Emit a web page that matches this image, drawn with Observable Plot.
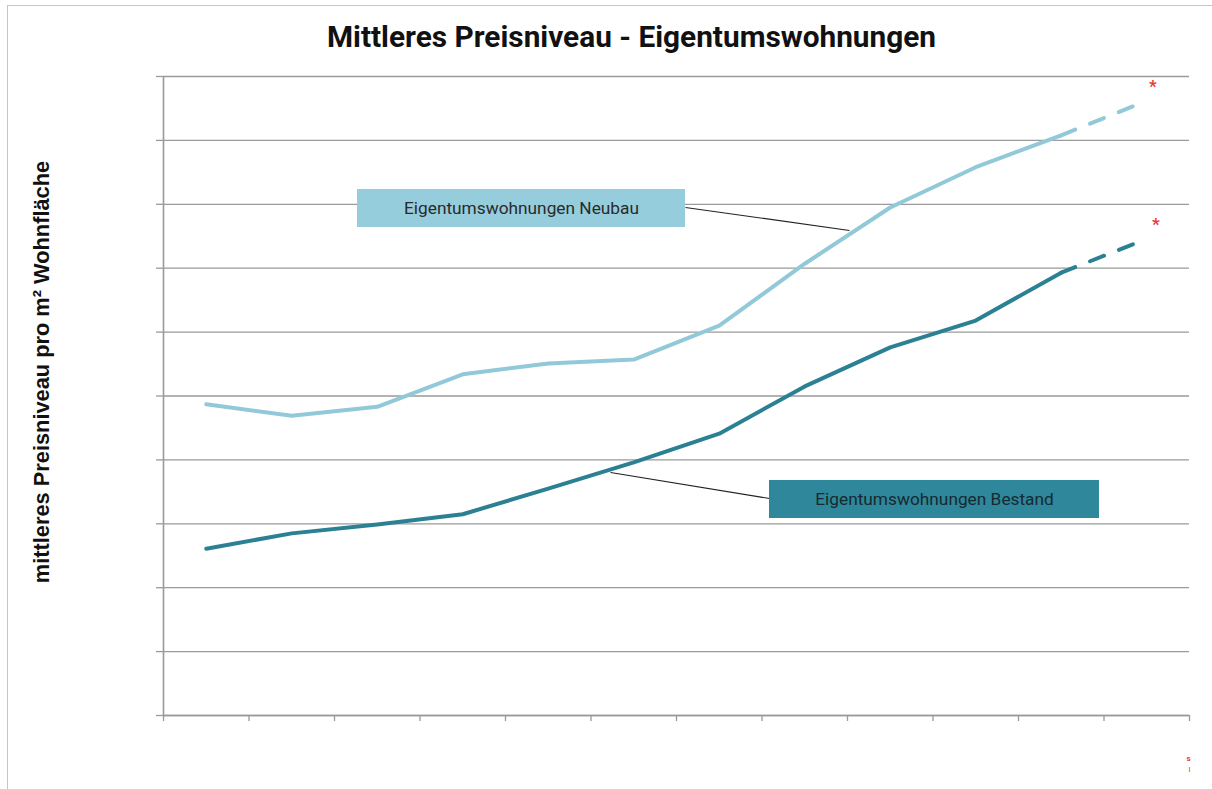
<!DOCTYPE html>
<html><head><meta charset="utf-8">
<script src="https://cdn.jsdelivr.net/npm/d3@7"></script>
<script src="https://cdn.jsdelivr.net/npm/@observablehq/plot@0.6"></script>
<style>
body{margin:0;background:#fff;}
#frame{position:absolute;left:7px;top:5px;width:1205px;height:784px;border-left:1.5px solid #c6c6c6;border-top:1.5px solid #c6c6c6;}
#chart{position:absolute;left:0;top:0;}
</style></head><body>
<div id="frame"></div><div id="chart"></div>
<script>
// periods (unlabelled in the original), values in unlabelled axis units (0–10 grid)
const periods = [1, 2, 3, 4, 5, 6, 7, 8, 9, 10, 11, 12];
const neubau  = [4.87, 4.69, 4.83, 5.34, 5.51, 5.57, 6.10, 7.07, 7.95, 8.58, 9.08, 9.62];
const bestand = [2.61, 2.85, 2.99, 3.15, 3.55, 3.96, 4.41, 5.15, 5.76, 6.18, 6.93, 7.46];
const lastActual = 11; // the last period is an estimate (dashed, marked *)
const yTicks = [0, 1, 2, 3, 4, 5, 6, 7, 8, 9, 10];
const xTicks = [0, 1, 2, 3, 4, 5, 6, 7, 8, 9, 10, 11, 12];
const title = "Mittleres Preisniveau - Eigentumswohnungen";
const yLabel = "mittleres Preisniveau pro m² Wohnfläche";
const labelNeubau = "Eigentumswohnungen Neubau";
const labelBestand = "Eigentumswohnungen Bestand";

const rows = periods.map((p, i) => ({p, x: p - 0.5, neubau: neubau[i], bestand: bestand[i]}));
const solid = rows.filter(d => d.p <= lastActual);
const dashed = rows.filter(d => d.p >= lastActual);
const last = rows.filter(d => d.p === periods[periods.length - 1]);

const cNeu = "#92c9d9", cBest = "#2b8094";
const grey = "#9a9a9a";

const chart = Plot.plot({
  width: 1212,
  height: 789,
  marginLeft: 163,
  marginRight: 23,
  marginTop: 76,
  marginBottom: 74,
  x: {domain: [0, 12]},
  y: {domain: [0, 10]},
  style: {fontFamily: "Roboto, sans-serif", background: "transparent"},
  marks: [
    Plot.gridY(yTicks, {stroke: grey, strokeOpacity: 1, strokeWidth: 1.3}),
    Plot.axisY(yTicks, {tickSize: 7, tickFormat: () => "", label: null, stroke: grey, strokeWidth: 1.3}),
    Plot.axisX(xTicks, {tickSize: 6, tickFormat: () => "", label: null, stroke: grey, strokeWidth: 1.3}),
    Plot.ruleX([0], {stroke: grey, strokeWidth: 1.6}),
    Plot.ruleY([0], {stroke: grey, strokeWidth: 1.6}),
    // leader lines
    Plot.link([0], {x1: 6.105, y1: 7.95, x2: 8.023, y2: 7.59, stroke: "#222", strokeWidth: 1.2}),
    Plot.link([0], {x1: 5.228, y1: 3.803, x2: 7.088, y2: 3.396, stroke: "#222", strokeWidth: 1.2}),
    // series
    Plot.line(solid, {x: "x", y: "neubau", stroke: cNeu, strokeWidth: 4, strokeLinejoin: "round"}),
    Plot.line(dashed, {x: "x", y: "neubau", stroke: cNeu, strokeWidth: 4, strokeDasharray: "15,16"}),
    Plot.line(solid, {x: "x", y: "bestand", stroke: cBest, strokeWidth: 4, strokeLinejoin: "round"}),
    Plot.line(dashed, {x: "x", y: "bestand", stroke: cBest, strokeWidth: 4, strokeDasharray: "15,16"}),
    Plot.text(last, {x: "x", y: "neubau", text: () => "*", fill: "#e8393a", fontSize: 17, fontWeight: "bold", dx: 6, dy: -14}),
    Plot.text(last, {x: "x", y: "bestand", text: () => "*", fill: "#e8393a", fontSize: 17, fontWeight: "bold", dx: 9, dy: -14}),
    // label boxes
    Plot.rect([0], {x1: 2.269, x2: 6.105, y1: 7.637, y2: 8.232, fill: "#96cddc"}),
    Plot.text([labelNeubau], {x: 4.187, y: 7.934, fill: "#2a2a2a", fontSize: 17.3, fontFamily: "Roboto"}),
    Plot.rect([0], {x1: 7.088, x2: 10.947, y1: 3.083, y2: 3.678, fill: "#2e879b"}),
    Plot.text([labelBestand], {x: 9.018, y: 3.38, fill: "#162a30", fontSize: 17.3, fontFamily: "Roboto"}),
    // title & y label
    Plot.text([title], {frameAnchor: "top", lineAnchor: "middle", dx: -45, dy: -39, fontSize: 29.8, fontWeight: 700, fontFamily: "Roboto", fill: "#111"}),
    Plot.text([yLabel], {frameAnchor: "left", textAnchor: "middle", dx: -121, dy: -24, rotate: -90, fontSize: 21.8, fontWeight: "bold", fill: "#111", fontFamily: "Liberation Sans, Arial, sans-serif"}),
    // small red remnants at the lower right
    Plot.text(["s"], {frameAnchor: "bottom-right", dx: 1, dy: 45, fontSize: 8, fill: "#e8393a", fontWeight: "bold"}),
    Plot.text(["l"], {frameAnchor: "bottom-right", dx: 1, dy: 56, fontSize: 8, fill: "#e8393a"})
  ]
});
document.getElementById("chart").appendChild(chart);
</script>
</body></html>
